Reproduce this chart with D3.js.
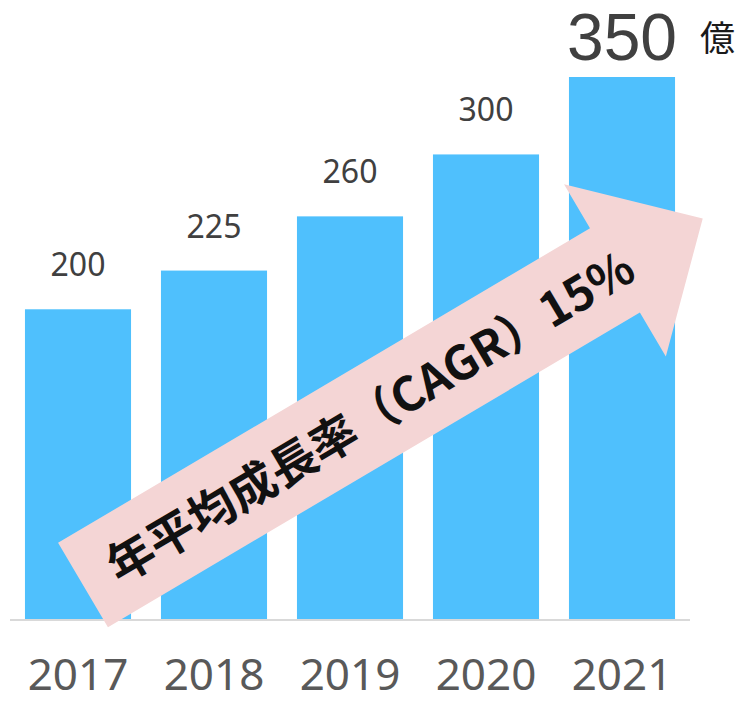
<!DOCTYPE html>
<html>
<head>
<meta charset="utf-8">
<script src="https://cdn.jsdelivr.net/npm/d3@7"></script>
<style>
  html, body { margin: 0; padding: 0; background: #fff; }
  svg { display: block; }
</style>
</head>
<body>
<div id="chart"></div>
<script>
// Data
var years = ["2017", "2018", "2019", "2020", "2021"];
var values = [200, 225, 260, 300, 350];
var unitLabel = "億";
var arrowLabel = "年平均成長率（CAGR）15%";

var totwidth = 742,
	totheight = 702,
	baseY = 619,
	topY = 77;

var svg = d3.select("#chart").append("svg")
	.attr("width", totwidth)
	.attr("height", totheight);

// Scales

var x = d3.scaleBand()
	.domain(years)
	.range([10, 690])
	.paddingInner(0.22)
	.paddingOuter(0.11);

var y = d3.scaleLinear()
	.domain([0, d3.max(values)])
	.range([baseY, topY]);

var data = years.map(function(d, i) { return {year: d, value: values[i]}; });
var last = data.length - 1;

// Bars

svg.append("g")
	.selectAll("rect")
	.data(data)
	.enter().append("rect")
		.attr("x", function(d) { return x(d.year); })
		.attr("y", function(d) { return y(d.value); })
		.attr("width", x.bandwidth())
		.attr("height", function(d) { return y(0) - y(d.value); })
		.attr("fill", "#4fc0fd");

// Baseline

svg.append("line")
	.attr("x1", x.range()[0])
	.attr("x2", x.range()[1])
	.attr("y1", y(0) + 1)
	.attr("y2", y(0) + 1)
	.attr("stroke", "#d9d9d9")
	.attr("stroke-width", 2);

// Year labels

svg.append("g")
	.selectAll("text")
	.data(data)
	.enter().append("text")
		.attr("x", function(d) { return x(d.year) + x.bandwidth() / 2; })
		.attr("y", 690)
		.attr("text-anchor", "middle")
		.attr("font-family", "'Noto Sans', 'Open Sans', sans-serif")
		.attr("font-size", 44)
		.attr("fill", "#595959")
		.text(function(d) { return d.year; });

// Value labels (last one is bigger, with unit)

svg.append("g")
	.selectAll("text")
	.data(data)
	.enter().append("text")
		.attr("x", function(d) { return x(d.year) + x.bandwidth() / 2; })
		.attr("y", function(d, i) { return i === last ? y(d.value) - 17 : y(d.value) - 33; })
		.attr("text-anchor", "middle")
		.attr("font-family", function(d, i) { return i === last ? "'Liberation Sans', Arial, sans-serif" : "'Noto Sans', 'Open Sans', sans-serif"; })
		.attr("font-size", function(d, i) { return i === last ? 66 : 32; })
		.attr("fill", "#404040")
		.text(function(d) { return d.value; });

svg.append("text")
	.attr("x", 700)
	.attr("y", 51)
	.attr("font-family", "'Noto Sans CJK JP', sans-serif")
	.attr("font-size", 35)
	.attr("fill", "#1a1a1a")
	.text(unitLabel);

// Growth arrow annotation, drawn in its own frame then rotated

var tail = [83, 585],
	angle = -30.6,
	shaftHalf = 49,
	headHalf = 100,
	headStart = 618,
	tipAt = 720;

var arrow = svg.append("g")
	.attr("transform", "translate(" + tail[0] + "," + tail[1] + ") rotate(" + angle + ")");

arrow.append("path")
	.attr("d", d3.line()([
		[0, -shaftHalf],
		[headStart, -shaftHalf],
		[headStart, -headHalf],
		[tipAt, 0],
		[headStart, headHalf],
		[headStart, shaftHalf],
		[0, shaftHalf]
	]) + "Z")
	.attr("fill", "#f4d5d5");

arrow.append("text")
	.attr("x", 333)
	.attr("y", 2)
	.attr("dy", "0.35em")
	.attr("text-anchor", "middle")
	.attr("font-family", "'Noto Sans CJK JP', sans-serif")
	.attr("font-weight", "bold")
	.attr("font-size", 47)
	.attr("fill", "#111")
	.text(arrowLabel);
</script>
</body>
</html>
